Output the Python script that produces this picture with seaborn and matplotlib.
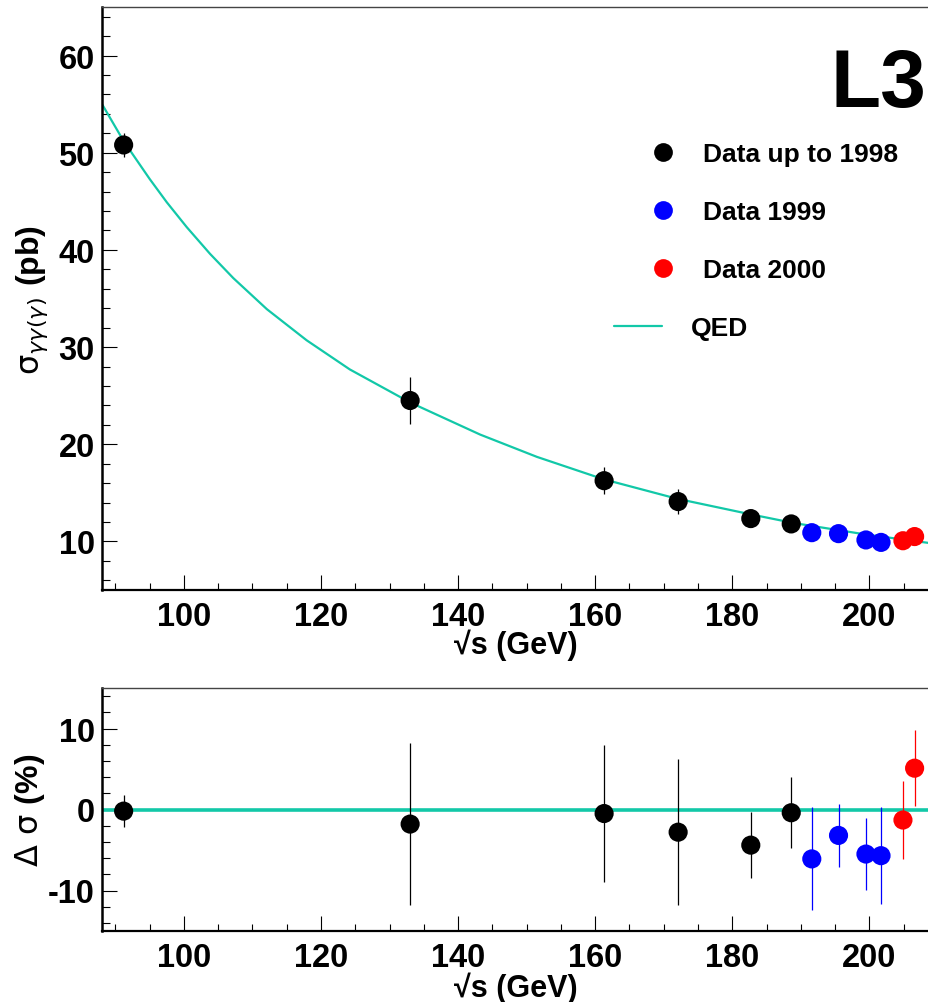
import numpy as np
import pandas as pd
import matplotlib
matplotlib.use("Agg")
import matplotlib.pyplot as plt
from matplotlib.lines import Line2D
import seaborn as sns

# ---------------- data ----------------
energy_98 = [91.2, 133.0, 161.3, 172.1, 182.7, 188.6]
sigma_98 = [50.8, 24.5, 16.25, 14.1, 12.35, 11.8]
sigerr_98 = [1.2, 2.4, 1.4, 1.3, 0.5, 0.5]
delta_98 = [-0.2, -1.8, -0.5, -2.8, -4.4, -0.4]
derr_98 = [2.0, 9.95, 8.5, 9.0, 4.1, 4.4]

energy_99 = [191.6, 195.5, 199.5, 201.7]
sigma_99 = [10.9, 10.8, 10.15, 9.9]
sigerr_99 = [0.7, 0.4, 0.45, 0.6]
delta_99 = [-6.1, -3.2, -5.5, -5.7]
derr_99 = [6.35, 3.9, 4.4, 6.0]

energy_00 = [204.9, 206.6]
sigma_00 = [10.07, 10.5]
sigerr_00 = [0.5, 0.5]
delta_00 = [-1.3, 5.1]
derr_00 = [4.8, 4.7]

qed_energy = [88.1, 91.2, 95.0, 97.5, 100.4, 103.8, 107.2, 112.1, 117.9, 124.2,
              133.0, 143.2, 151.5, 161.2, 171.9, 182.6, 188.9, 199.6, 208.7]
qed_sigma = [54.94, 51.2, 47.3, 44.9, 42.35, 39.6, 37.1, 33.9, 30.7, 27.7,
             24.3, 21.0, 18.7, 16.4, 14.4, 12.8, 11.9, 10.7, 9.84]

labels = ["Data up to 1998", "Data 1999", "Data 2000"]
colors = {"Data up to 1998": "black", "Data 1999": "#0000ff", "Data 2000": "#ff0000"}
qed_color = "#12c8a8"

x_ticks = [100, 120, 140, 160, 180, 200]
top_yticks = [10, 20, 30, 40, 50, 60]
bot_yticks = [-10, 0, 10]

df = pd.DataFrame({
    "energy": energy_98 + energy_99 + energy_00,
    "sigma": sigma_98 + sigma_99 + sigma_00,
    "sigerr": sigerr_98 + sigerr_99 + sigerr_00,
    "delta": delta_98 + delta_99 + delta_00,
    "derr": derr_98 + derr_99 + derr_00,
    "period": [labels[0]] * len(energy_98) + [labels[1]] * len(energy_99) + [labels[2]] * len(energy_00),
})
qed = pd.DataFrame({"energy": qed_energy, "sigma": qed_sigma})

# ---------------- style ----------------
sns.set_style("ticks")
plt.rcParams["font.family"] = ["Liberation Sans", "DejaVu Sans"]
plt.rcParams["font.weight"] = "normal"
plt.rcParams["mathtext.fontset"] = "custom"
plt.rcParams["mathtext.rm"] = "DejaVu Sans"
plt.rcParams["mathtext.it"] = "DejaVu Sans:italic"
plt.rcParams["mathtext.bf"] = "Liberation Sans:bold"
plt.rcParams["mathtext.sf"] = "DejaVu Sans"
plt.rcParams["axes.unicode_minus"] = False
for k in ["text.color", "axes.labelcolor", "xtick.color", "ytick.color", "axes.edgecolor"]:
    plt.rcParams[k] = "black"

fig = plt.figure(figsize=(9.29, 10.03), dpi=100)
W, H = 929.0, 1003.0
left = 101.7
ax1 = fig.add_axes([left / W, 1 - 591 / H, (W - left) / W, (591 - 8) / H])
ax2 = fig.add_axes([left / W, 1 - 932 / H, (W - left) / W, (932 - 689) / H])

# ---------------- top panel ----------------
sns.lineplot(data=qed, x="energy", y="sigma", ax=ax1, color=qed_color, lw=1.6, zorder=2)
for p in labels:
    sub = df[df.period == p]
    ax1.errorbar(sub.energy, sub.sigma, yerr=sub.sigerr, fmt="none",
                 ecolor=colors[p], elinewidth=0.9, capsize=0, zorder=3)
sns.scatterplot(data=df, x="energy", y="sigma", hue="period", palette=colors,
                s=190, linewidth=0, ax=ax1, legend=False, zorder=4)

# ---------------- bottom panel ----------------
ax2.axhline(0, color=qed_color, lw=2.6, zorder=2)
for p in labels:
    sub = df[df.period == p]
    ax2.errorbar(sub.energy, sub.delta, yerr=sub.derr, fmt="none",
                 ecolor=colors[p], elinewidth=0.9, capsize=0, zorder=3)
sns.scatterplot(data=df, x="energy", y="delta", hue="period", palette=colors,
                s=190, linewidth=0, ax=ax2, legend=False, zorder=4)

# ---------------- axes cosmetics ----------------
for ax, yt, ylim in [(ax1, top_yticks, (5, 65)), (ax2, bot_yticks, (-15, 15))]:
    ax.set_xlim(88, 208.7)
    ax.set_ylim(*ylim)
    ax.set_xticks(x_ticks)
    ax.set_xticks(np.arange(90, 209, 5), minor=True)
    ax.set_yticks(yt)
    ax.set_yticks(np.arange(ylim[0] + 1 if ylim[0] % 2 else ylim[0], ylim[1] + 0.1, 2), minor=True)
    ax.tick_params(axis="both", which="major", direction="in", length=10.8, width=0.8,
                   labelsize=23.5, colors="black")
    ax.tick_params(axis="both", which="minor", direction="in", length=5.4, width=0.8)
    ax.tick_params(axis="x", which="both", top=False, pad=8)
    ax.tick_params(axis="y", which="both", right=False, pad=5)
    for lab in ax.get_xticklabels() + ax.get_yticklabels():
        lab.set_fontweight("bold")
    ax.spines["right"].set_visible(False)
    ax.spines["left"].set_linewidth(1.8)
    ax.spines["bottom"].set_linewidth(1.6)
    ax.spines["top"].set_linewidth(1.0)
    ax.spines["top"].set_color("#444444")
    ax.set_xlabel("\u221as (GeV)", fontsize=22, fontweight="bold")
    ax.xaxis.label.set_va("baseline")

ax1.xaxis.set_label_coords(0.5, -0.108)
ax2.xaxis.set_label_coords(0.5, -0.268)
ax1.set_ylabel(r"$\mathrm{\sigma}_{\gamma\gamma(\gamma)}\ \mathbf{(pb)}$", fontsize=23)
ax1.yaxis.set_label_coords(-0.063, 0.5)
ax2.set_ylabel(r"$\mathrm{\Delta}\ \mathrm{\sigma}\ \mathbf{(\%)}$", fontsize=23)
ax2.yaxis.set_label_coords(-0.066, 0.5)

# L3 logo
ax1.text(0.9964, 0.830, "L3", transform=ax1.transAxes, ha="right", va="baseline",
         fontsize=59, fontweight="bold")

# ---------------- legends ----------------
fs = 19
handles = [Line2D([], [], ls="none", marker="o", markersize=13.5, markeredgewidth=0,
                  color=colors[p]) for p in labels]
leg1 = ax1.legend(handles, labels, loc="center left", frameon=False,
                  bbox_to_anchor=(650 / W, 1 - 213 / H), bbox_transform=fig.transFigure,
                  handlelength=1.0, handletextpad=1.0, labelspacing=1.29,
                  borderpad=0, borderaxespad=0, prop={"weight": "bold", "size": fs})
ax1.add_artist(leg1)
qh = [Line2D([], [], color=qed_color, lw=1.6)]
ax1.legend(qh, ["QED"], loc="center left", frameon=False,
           bbox_to_anchor=(614 / W, 1 - 329 / H), bbox_transform=fig.transFigure,
           handlelength=1.82, handletextpad=1.1, borderpad=0, borderaxespad=0,
           prop={"weight": "bold", "size": fs})

fig.savefig("out.png", dpi=100)
